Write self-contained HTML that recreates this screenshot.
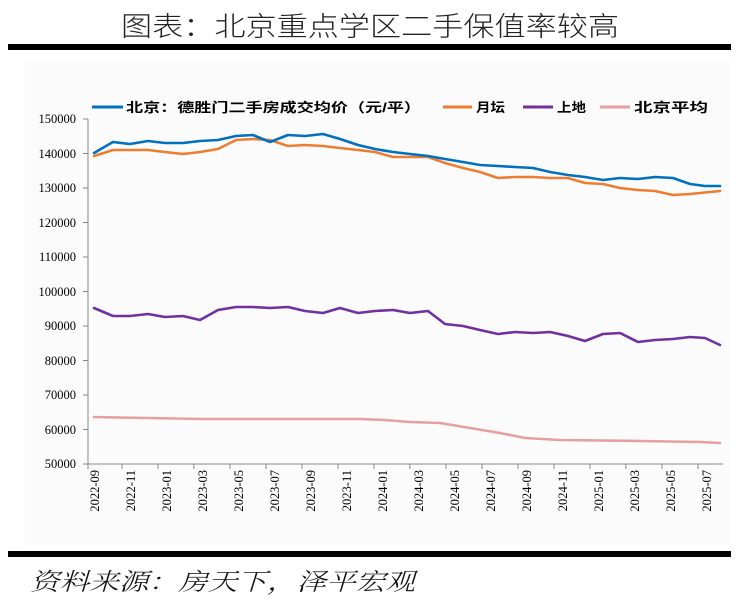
<!DOCTYPE html>
<html><head><meta charset="utf-8"><style>
body{margin:0;background:#fff;width:738px;height:603px;overflow:hidden;position:relative}
svg{position:absolute;left:0;top:0}
</style></head><body>
<svg width="738" height="603" viewBox="0 0 738 603" xmlns="http://www.w3.org/2000/svg">
<text x="121" y="36" textLength="498" lengthAdjust="spacingAndGlyphs" font-family="'Liberation Sans','Noto Sans CJK SC',sans-serif" font-size="27" font-weight="300" fill="#222">图表：北京重点学区二手保值率较高</text>
<rect x="8" y="44" width="723" height="6" fill="#000"/>
<rect x="25" y="62" width="705" height="483" fill="#fbfbfb"/>
<g font-family="'Liberation Sans','Noto Sans CJK SC',sans-serif" font-size="13" font-weight="bold" fill="#000">
<line x1="92" y1="107" x2="123" y2="107" stroke="#0070C0" stroke-width="3"/>
<text x="126" y="112" textLength="295" lengthAdjust="spacingAndGlyphs">北京：德胜门二手房成交均价（元/平）</text>
<line x1="443" y1="107" x2="472" y2="107" stroke="#ED7D31" stroke-width="3"/>
<text x="476" y="112" textLength="29" lengthAdjust="spacingAndGlyphs">月坛</text>
<line x1="523" y1="107" x2="553" y2="107" stroke="#7030A0" stroke-width="3"/>
<text x="557" y="112" textLength="29" lengthAdjust="spacingAndGlyphs">上地</text>
<line x1="600" y1="107" x2="630" y2="107" stroke="#E6A0A0" stroke-width="3"/>
<text x="634" y="112" textLength="74" lengthAdjust="spacingAndGlyphs">北京平均</text>
</g>
<g font-family="'Liberation Serif',serif" font-size="12.5" fill="#000" text-anchor="end">
<text x="76" y="123">150000</text><text x="76" y="158">140000</text><text x="76" y="192">130000</text><text x="76" y="227">120000</text><text x="76" y="261">110000</text><text x="76" y="296">100000</text><text x="76" y="330">90000</text><text x="76" y="365">80000</text><text x="76" y="399">70000</text><text x="76" y="434">60000</text><text x="76" y="468">50000</text>
</g>
<g stroke="#888" stroke-width="1" fill="none">
<path d="M88 119V464H723"/>
<path d="M83 119H88M83 153.5H88M83 188H88M83 222.5H88M83 257H88M83 291.5H88M83 326H88M83 360.5H88M83 395H88M83 429.5H88M83 464H88"/>
<path d="M88 464v5M122 464v5M158 464v5M194 464v5M230 464v5M266 464v5M302 464v5M338 464v5M374 464v5M410 464v5M446 464v5M482 464v5M518 464v5M554 464v5M590 464v5M626 464v5M662 464v5M698 464v5"/>
</g>
<g font-family="'Liberation Serif',serif" font-size="12.5" fill="#000" text-anchor="end">
<text transform="translate(99,470) rotate(-90)">2022-09</text>
<text transform="translate(135,470) rotate(-90)">2022-11</text>
<text transform="translate(171,470) rotate(-90)">2023-01</text>
<text transform="translate(207,470) rotate(-90)">2023-03</text>
<text transform="translate(243,470) rotate(-90)">2023-05</text>
<text transform="translate(279,470) rotate(-90)">2023-07</text>
<text transform="translate(315,470) rotate(-90)">2023-09</text>
<text transform="translate(351,470) rotate(-90)">2023-11</text>
<text transform="translate(387,470) rotate(-90)">2024-01</text>
<text transform="translate(423,470) rotate(-90)">2024-03</text>
<text transform="translate(459,470) rotate(-90)">2024-05</text>
<text transform="translate(495,470) rotate(-90)">2024-07</text>
<text transform="translate(531,470) rotate(-90)">2024-09</text>
<text transform="translate(567,470) rotate(-90)">2024-11</text>
<text transform="translate(603,470) rotate(-90)">2025-01</text>
<text transform="translate(639,470) rotate(-90)">2025-03</text>
<text transform="translate(675,470) rotate(-90)">2025-05</text>
<text transform="translate(711,470) rotate(-90)">2025-07</text>
</g>
<g fill="none" stroke-width="2.6" stroke-linejoin="round" stroke-linecap="round">
<polyline stroke="#E6A0A0" points="94,417 200,419 330,419 360,419 385,420 410,422 440,423 470,428 500,433 525,438 560,440 640,441 700,442 720,443"/>
<polyline stroke="#7030A0" points="94,308 113,316 130,316 148,314 165,317 183,316 200,320 218,310 236,307 253,307 270,308 288,307 305,311 323,313 340,308 358,313 375,311 393,310 410,313 428,311 445,324 463,326 480,330 498,334 515,332 533,333 550,332 568,336 585,341 603,334 620,333 638,342 655,340 673,339 690,337 705,338 720,345"/>
<polyline stroke="#ED7D31" points="94,156 113,150 130,150 148,150 165,152 183,154 200,152 218,149 236,140 253,139 270,140 288,146 305,145 323,146 340,148 358,150 375,152 393,157 410,157 428,157 445,163 463,168 480,172 498,178 515,177 533,177 550,178 568,178 585,183 603,184 620,188 638,190 655,191 673,195 690,194 720,191"/>
<polyline stroke="#0070C0" points="94,153 113,142 130,144 148,141 165,143 183,143 200,141 218,140 236,136 253,135 270,142 288,135 305,136 323,134 340,139 358,145 375,149 393,152 410,154 428,156 445,159 463,162 480,165 498,166 515,167 533,168 550,172 568,175 585,177 603,180 620,178 638,179 655,177 673,178 690,184 705,186 720,186"/>
</g>
<rect x="8" y="551" width="723" height="6" fill="#000"/>
<text x="30" y="590" textLength="385" lengthAdjust="spacingAndGlyphs" font-family="'Liberation Serif','Noto Serif CJK SC',serif" font-size="24" font-style="italic" font-weight="300" fill="#111">资料来源：房天下，泽平宏观</text>
</svg>
</body></html>
